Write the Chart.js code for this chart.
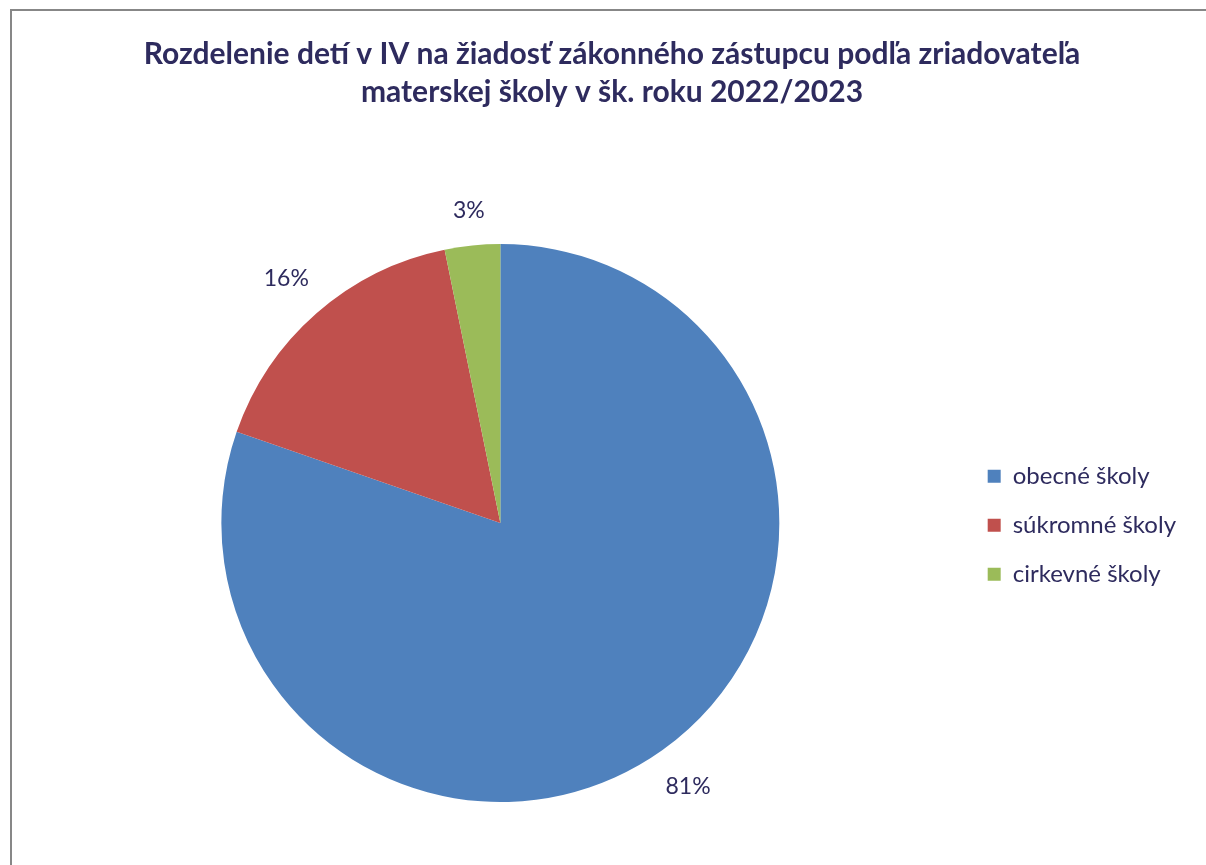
<!DOCTYPE html>
<html lang="sk">
<head>
  <meta charset="UTF-8">
  <title>Rozdelenie detí v IV</title>
  <script src="https://cdn.jsdelivr.net/npm/chart.js"></script>
  <style>
    html, body {
      margin: 0;
      background: white;
      overflow: hidden;
      width: 1206px;
      height: 865px;
    }
    #ramik {
      position: absolute;
      left: 10px;
      top: 9px;
      width: 1210px;
      height: 900px;
      border-left: 2px solid #878787;
      border-top: 2px solid #878787;
    }
    #ramik canvas {
      position: absolute;
      left: 0;
      top: 0;
    }
  </style>
</head>
<body>

  <div id="ramik">
    <canvas id="kolac" width="1210" height="856"></canvas>
  </div>

  <script>
    // údaje z grafu
    const kategorie = ['obecné školy', 'súkromné školy', 'cirkevné školy'];
    const podiely = [80.3, 16.5, 3.2];
    const popisky = ['81%', '16%', '3%'];
    const farby = ['#4F81BD', '#C0504D', '#9BBB59'];

    const tmavaModra = '#2E2B5E';

    // popisky mimo výseku, okraj textu kúsok od obvodu
    const vonkajsiePopisky = {
      id: 'vonkajsiePopisky',
      afterDatasetsDraw(chart) {
        const ctx = chart.ctx;
        const meta = chart.getDatasetMeta(0);
        ctx.save();
        ctx.font = '23px Lato, "Open Sans", sans-serif';
        ctx.fillStyle = tmavaModra;
        ctx.textAlign = 'center';
        ctx.textBaseline = 'middle';
        meta.data.forEach((arc, i) => {
          const { x, y, startAngle, endAngle, outerRadius } = arc.getProps(['x', 'y', 'startAngle', 'endAngle', 'outerRadius'], true);
          const uhol = (startAngle + endAngle) / 2;
          const c = Math.cos(uhol), s = Math.sin(uhol);
          const w = ctx.measureText(popisky[i]).width;
          const r = outerRadius + 25 + Math.abs(c) * w / 2 + Math.abs(s) * 8;
          ctx.fillText(popisky[i], x + c * r, y + s * r);
        });
        ctx.restore();
      }
    };

    new Chart(document.getElementById('kolac'), {
      type: 'pie',
      data: {
        labels: kategorie,
        datasets: [{
          data: podiely,
          backgroundColor: farby,
          borderWidth: 0
        }]
      },
      options: {
        responsive: false,
        animation: false,
        layout: {
          padding: { left: 26, right: 36, top: 0, bottom: 65 }
        },
        plugins: {
          title: {
            display: true,
            text: ['Rozdelenie detí v IV na žiadosť zákonného zástupcu podľa zriadovateľa',
                   'materskej školy v šk. roku 2022/2023'],
            color: tmavaModra,
            font: { family: 'Lato, "Open Sans", sans-serif', size: 30, weight: 'bold', lineHeight: 1.267 },
            padding: { top: 24, bottom: 133 }
          },
          legend: {
            position: 'right',
            maxWidth: 230,
            // prázdny nadpis legendy posúva položky nadol
            title: {
              display: true,
              text: ' ',
              font: { size: 12, lineHeight: 1.2 },
              padding: { top: 223, bottom: 0 }
            },
            labels: {
              color: tmavaModra,
              font: { family: 'Lato, "Open Sans", sans-serif', size: 24 },
              boxWidth: 13,
              boxHeight: 13,
              padding: 25
            }
          },
          tooltip: { enabled: false }
        }
      },
      plugins: [vonkajsiePopisky]
    });
  </script>

</body>
</html>
